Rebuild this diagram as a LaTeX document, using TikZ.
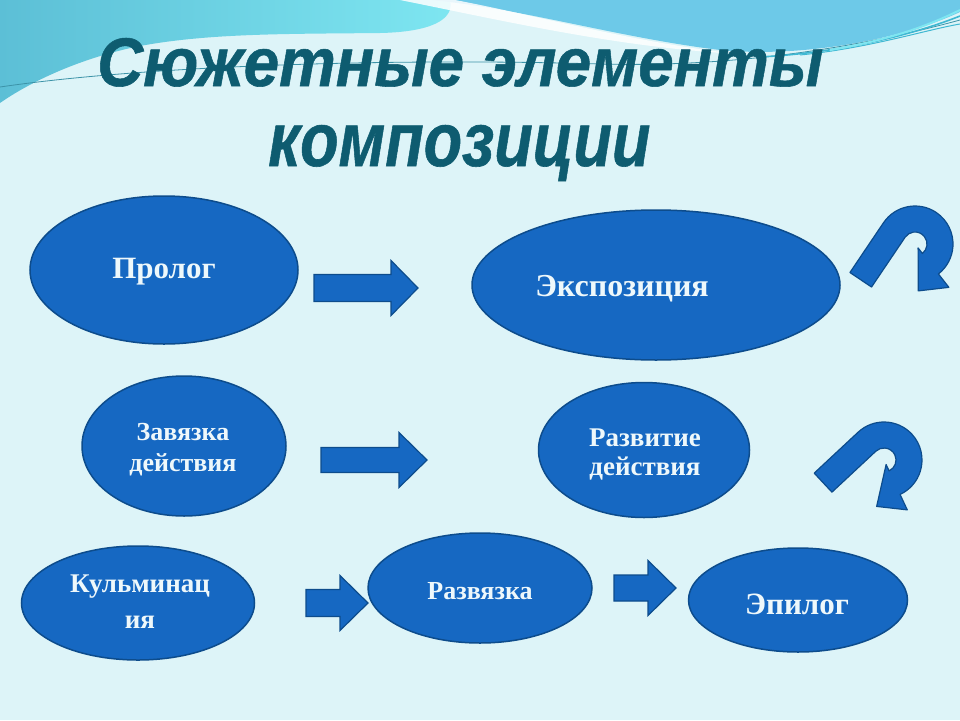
\documentclass[tikz,border=0pt]{standalone}
\usepackage{fontspec}
\setmainfont{Liberation Serif}
\newfontfamily\titlefont{Liberation Sans}[BoldItalicFeatures={FakeBold=0.8}]
\usetikzlibrary{shapes.geometric}
\definecolor{bgpale}{HTML}{DDF4F8}
\definecolor{cyanA}{HTML}{5CBFD6}
\definecolor{cyanB}{HTML}{7EE6F1}
\definecolor{skyblue}{HTML}{6DC9E8}
\definecolor{streak}{HTML}{3FB8D2}
\definecolor{thinline}{HTML}{3C93A8}
\definecolor{titlecol}{HTML}{0E5C70}
\definecolor{ovalfill}{HTML}{1668C2}
\definecolor{ovaldraw}{HTML}{0D4C8C}
\definecolor{ovaltext}{HTML}{EEF8FB}
\newcommand\myarrow[6]{\draw[barrow] (#1,{-#4+#5}) -- (#2,{-#4+#5}) -- (#2,{-#4+#6}) -- (#3,-#4) -- (#2,{-#4-#6}) -- (#2,{-#4-#5}) -- (#1,{-#4-#5}) -- cycle;}
\begin{document}
\begin{tikzpicture}[x=1pt,y=1pt,
  oval/.style={ellipse, fill=ovalfill, draw=ovaldraw, line width=1.5pt, inner sep=0pt},
  ovaltxt/.style={text=ovaltext, font=\bfseries\fontsize{#1}{#1}\selectfont, inner sep=0pt},
  barrow/.style={fill=ovalfill, draw=ovaldraw, line width=1.2pt, line join=miter},
  uturn/.pic={\draw[barrow, line join=round] (-38,-60) -- (-38,0) arc[start angle=180,end angle=-18,radius=38] -- (-18:55) -- (-52:47) -- (-18:5) -- (-18:12) arc[start angle=-18,end angle=180,radius=12] -- (-12,-60) -- cycle;},
  titletxt/.style={text=titlecol, inner sep=0pt, anchor=base west}
]
\useasboundingbox (0,0) rectangle (960,-720);
% background
\fill[bgpale] (0,0) rectangle (960,-720);
\shade[left color=cyanA, right color=cyanB] (0,0) -- (450,0) .. controls (455,-20) and (430,-32) .. (380,-33) .. controls (290,-34) and (210,-33) .. (140,-46) .. controls (80,-58) and (30,-82) .. (0,-103) -- cycle;
\fill[skyblue] (430,0) -- (960,0) -- (960,-12) .. controls (900,-40) and (800,-58) .. (720,-50) .. controls (620,-38) and (520,-8) .. (430,0) -- cycle;
\fill[white, opacity=0.85] (400,0) .. controls (500,-20) and (620,-48) .. (740,-54) .. controls (640,-44) and (530,-14) .. (455,0) -- cycle;
\draw[thinline, line width=0.8pt] (0,-87) .. controls (150,-65) and (400,-58) .. (600,-64) .. controls (750,-68) and (880,-42) .. (960,-20);
\draw[streak, line width=1.6pt] (760,-57) .. controls (850,-52) and (920,-32) .. (960,-16);
\draw[streak, line width=1pt] (800,-55) .. controls (870,-48) and (925,-30) .. (960,-24);
\draw[cyanB, line width=2pt] (830,-50) .. controls (890,-40) and (930,-25) .. (960,-10);
% title
\node[titletxt] (title1) at (97,-86) {\resizebox{726pt}{48pt}{\titlefont\bfseries\itshape Сюжетные элементы}};
\node[titletxt] (title2) at (268,-166) {\resizebox{382pt}{41pt}{\titlefont\bfseries\itshape композиции}};
% ovals
\node[oval, minimum width=268pt, minimum height=148pt] (e1) at (164,-270) {};
\node[oval, minimum width=368pt, minimum height=150pt] (e2) at (656,-285) {};
\node[oval, minimum width=204pt, minimum height=140pt] (e3) at (184,-446) {};
\node[oval, minimum width=211pt, minimum height=135pt] (e4) at (644,-450) {};
\node[oval, minimum width=233pt, minimum height=114pt] (e5) at (138,-603) {};
\node[oval, minimum width=224pt, minimum height=110pt] (e6) at (480,-588) {};
\node[oval, minimum width=219pt, minimum height=104pt] (e7) at (798,-600) {};
% texts
\node[ovaltxt=31] (t1) at (164,-272) {Пролог};
\node[ovaltxt=32] (t2) at (622,-289) {Экспозиция};
\node[ovaltxt=26] (t3a) at (183,-432) {Завязка};
\node[ovaltxt=26] (t3b) at (183,-465) {действия};
\node[ovaltxt=27] (t4a) at (645,-438) {Развитие};
\node[ovaltxt=27] (t4b) at (645,-469) {действия};
\node[ovaltxt=27] (t5a) at (140,-587) {Кульминац};
\node[ovaltxt=27] (t5b) at (140,-622) {ия};
\node[ovaltxt=26] (t6) at (480,-591) {Развязка};
\node[ovaltxt=31] (t7) at (797,-604) {Эпилог};
% block arrows
\myarrow{314}{391}{418}{288}{13.5}{27.5}
\myarrow{321}{399}{427}{460}{12.5}{27.5}
\myarrow{306}{340}{368}{603}{13.5}{27.5}
\myarrow{614}{648}{676}{588}{13}{27.5}
% u-turn arrows
\pic[rotate=-34] at (915,-244) {uturn};
\pic[rotate=-47] at (884,-460) {uturn};
\end{tikzpicture}
\end{document}
